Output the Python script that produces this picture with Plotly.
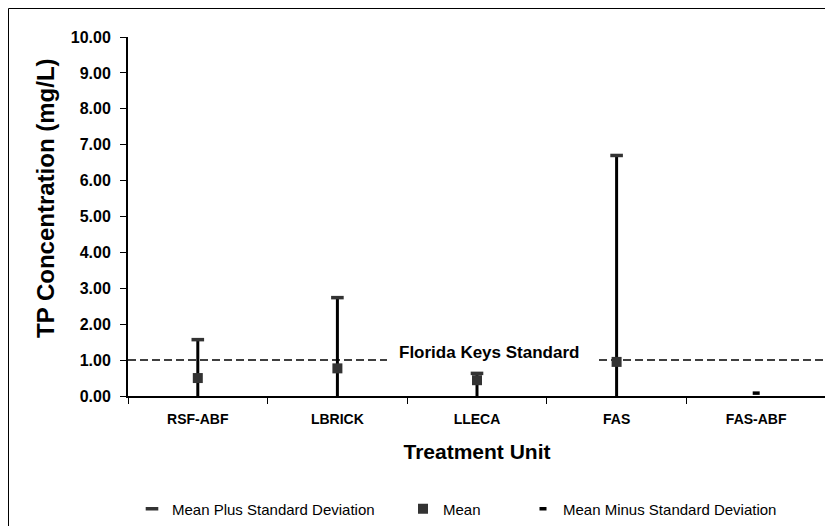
import plotly.graph_objects as go

categories = ["RSF-ABF", "LBRICK", "LLECA", "FAS", "FAS-ABF"]
mean_plus_sd = [1.57, 2.74, 0.63, 6.70, None]
mean_vals = [0.50, 0.77, 0.44, 0.95, None]
mean_minus_sd = [-0.57, -1.20, -0.20, -4.80, 0.08]
standard_value = 1.0
y_ticks = [0, 1, 2, 3, 4, 5, 6, 7, 8, 9, 10]

# high-low lines from minus SD to plus SD
hl_x, hl_y = [], []
for c, lo, hi in zip(categories, mean_minus_sd, mean_plus_sd):
    if hi is None:
        continue
    hl_x += [c, c, None]
    hl_y += [lo, hi, None]

FONT = "Liberation Sans, Arial, sans-serif"

fig = go.Figure()
fig.add_trace(go.Scatter(x=hl_x, y=hl_y, mode="lines",
                         line=dict(color="black", width=3),
                         showlegend=False, hoverinfo="skip"))
fig.add_trace(go.Scatter(x=categories, y=mean_plus_sd, mode="markers",
                         name="Mean Plus Standard Deviation",
                         marker=dict(symbol="line-ew", size=9,
                                     line=dict(color="#333333", width=3.5)),
                         legend="legend"))
fig.add_trace(go.Scatter(x=categories, y=mean_vals, mode="markers",
                         name="Mean",
                         marker=dict(symbol="square", size=10, color="#333333"),
                         legend="legend2"))
fig.add_trace(go.Scatter(x=categories, y=mean_minus_sd, mode="markers",
                         name="Mean Minus Standard Deviation",
                         marker=dict(symbol="line-ew", size=5,
                                     line=dict(color="black", width=3.5)),
                         legend="legend3"))

# page is drawn with an 8px body offset; figure sized to fit the window
OFF = 8
W, H = 833 - OFF, 526 - OFF
L, T = 128 - OFF, 37 - OFF
R = W - (826 - OFF)
B = H - (396 - OFF)
pw = W - L - R
ph = H - T - B


def px_x(px):
    return (px - OFF - L) / pw


def px_y(py):
    return (H - B - (py - OFF)) / ph


# Florida Keys standard line, interrupted by its label
dash_style = dict(color="black", width=1.5, dash="8px,4px")
fig.add_shape(type="line", xref="paper", yref="y", x0=0, x1=px_x(387),
              y0=standard_value, y1=standard_value, line=dash_style, layer="below")
fig.add_shape(type="line", xref="paper", yref="y", x0=px_x(599), x1=1,
              y0=standard_value, y1=standard_value, line=dash_style, layer="below")
fig.add_annotation(text="<b>Florida Keys Standard</b>", xref="paper", yref="paper",
                   x=px_x(489), y=px_y(352), showarrow=False,
                   xanchor="center", yanchor="middle",
                   font=dict(family=FONT, size=17, color="black"))
# y-axis title (sits a little above the plot centre, as in the original)
fig.add_annotation(text="<b>TP Concentration (mg/L)</b>", xref="paper", yref="paper",
                   x=px_x(45), y=px_y(198), showarrow=False, textangle=-90,
                   xanchor="center", yanchor="middle",
                   font=dict(family=FONT, size=24, color="black"))
# outer chart border
fig.add_shape(type="rect", xref="paper", yref="paper",
              x0=px_x(OFF + 0.5), x1=px_x(828), y0=px_y(540), y1=px_y(OFF + 0.5),
              line=dict(color="black", width=1))

legend_common = dict(orientation="h", yanchor="middle", xanchor="left",
                     font=dict(family=FONT, size=15, color="black"),
                     bgcolor="rgba(0,0,0,0)", itemwidth=30)
fig.update_layout(
    width=W, height=H,
    margin=dict(l=L, r=R, t=T, b=B, autoexpand=False),
    paper_bgcolor="white", plot_bgcolor="white",
    font=dict(family=FONT, color="black"),
    legend=dict(x=px_x(132), y=px_y(509), **legend_common),
    legend2=dict(x=px_x(403), y=px_y(509), **legend_common),
    legend3=dict(x=px_x(523), y=px_y(509), **legend_common),
    xaxis=dict(type="category", categoryorder="array", categoryarray=categories,
               range=[-0.5, 4.5], showline=True, linecolor="black", linewidth=2,
               ticks="outside", tickson="boundaries", ticklen=6, tickcolor="black",
               tickfont=dict(size=14, weight="bold"), showgrid=False,
               ticklabelstandoff=9,
               title=dict(text="<b>Treatment Unit</b>", font=dict(size=21), standoff=19),
               automargin=False, zeroline=False),
    yaxis=dict(range=[0, 10], tickvals=y_ticks, tickformat=".2f",
               showline=True, linecolor="black", linewidth=2,
               ticks="outside", ticklen=6, tickcolor="black",
               tickfont=dict(size=16, weight="bold"), showgrid=False,
               ticklabelstandoff=6,
               automargin=False, zeroline=False),
)

fig.write_html("out.html")
